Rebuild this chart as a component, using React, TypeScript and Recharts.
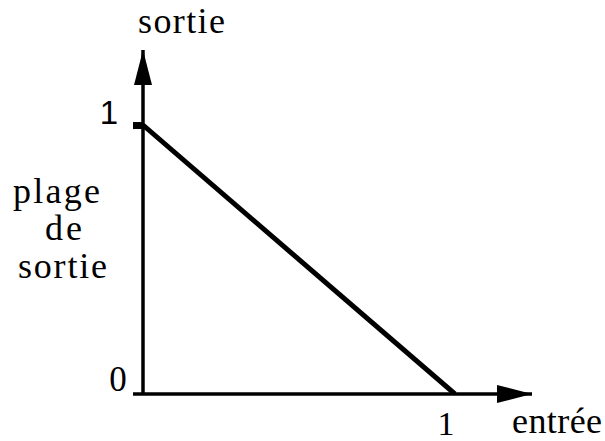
import { LineChart, Line, XAxis, YAxis, ReferenceDot, Customized } from "recharts";

// la droite de sortie : entrée 0 -> sortie 1, entrée 1 -> sortie 0
const entrees = [0, 1];
const sorties = [1, 0];
const xTicks = [1];
const yTicks = [0, 1];
// les axes dépassent la plage [0, 1] jusqu'aux flèches
const xMax = 1.247;
const yMax = 1.279;

const data = entrees.map((e, i) => ({ entree: e, sortie: sorties[i] }));

const serif = { fontFamily: "Liberation Serif, Times New Roman, serif" };
const sans = { fontFamily: "Liberation Sans, Arial, sans-serif" };

const YTick = ({ x, y, payload }: any) => {
  if (payload.value === 1) {
    return (
      <g>
        <rect x={x - 10} y={y - 3} width={11} height={7} fill="#000" />
        <text x={x - 34} y={y - 1} textAnchor="middle" style={sans} fontSize={33} fill="#000">
          1
        </text>
      </g>
    );
  }
  return (
    <g>
      <line x1={x - 10} y1={y} x2={x} y2={y} stroke="#000" strokeWidth={3.5} />
      <text x={x - 25} y={y - 3} textAnchor="middle" style={serif} fontSize={35} fill="#000">
        0
      </text>
    </g>
  );
};

const XTick = ({ x, y, payload }: any) => (
  <text x={x - 9} y={y + 41} textAnchor="middle" style={serif} fontSize={34} fill="#000">
    {payload.value}
  </text>
);

const UpArrow = ({ cx, cy }: any) => (
  <polygon points={`${cx},${cy} ${cx - 9},${cy + 35} ${cx + 9},${cy + 35}`} fill="#000" />
);

const RightArrow = ({ cx, cy }: any) => (
  <polygon points={`${cx},${cy} ${cx - 35},${cy - 9} ${cx - 35},${cy + 9}`} fill="#000" />
);

const Titles = () => (
  <g style={serif} fontSize={36} fill="#000">
    <text x={138} y={33} textLength={87} lengthAdjust="spacing">sortie</text>
    <text x={13} y={203} textLength={87} lengthAdjust="spacing">plage</text>
    <text x={45} y={240} textLength={37} lengthAdjust="spacing">de</text>
    <text x={18} y={278} textLength={89} lengthAdjust="spacing">sortie</text>
    <text x={512} y={433} textLength={90} lengthAdjust="spacing">entrée</text>
  </g>
);

export default function App() {
  return (
    <div style={{ position: "absolute", left: 0, top: 0, background: "#fff" }}>
      <LineChart
        width={605}
        height={441}
        data={data}
        margin={{ top: 50, right: 73, bottom: 46, left: 142 }}
      >
        <XAxis
          dataKey="entree"
          type="number"
          domain={[0, xMax]}
          ticks={xTicks}
          height={1}
          tickSize={0}
          tickMargin={0}
          tickLine={false}
          axisLine={{ stroke: "#000", strokeWidth: 3.5 }}
          tick={<XTick />}
          allowDataOverflow
        />
        <YAxis
          type="number"
          domain={[0, yMax]}
          ticks={yTicks}
          width={1}
          tickSize={0}
          tickMargin={0}
          tickLine={false}
          axisLine={{ stroke: "#000", strokeWidth: 3.5 }}
          tick={<YTick />}
          allowDataOverflow
        />
        <Line
          dataKey="sortie"
          type="linear"
          stroke="#000"
          strokeWidth={5}
          dot={false}
          isAnimationActive={false}
        />
        <ReferenceDot x={0} y={yMax} r={0} shape={<UpArrow />} ifOverflow="visible" />
        <ReferenceDot x={xMax} y={0} r={0} shape={<RightArrow />} ifOverflow="visible" />
        <Customized component={Titles} />
      </LineChart>
    </div>
  );
}
